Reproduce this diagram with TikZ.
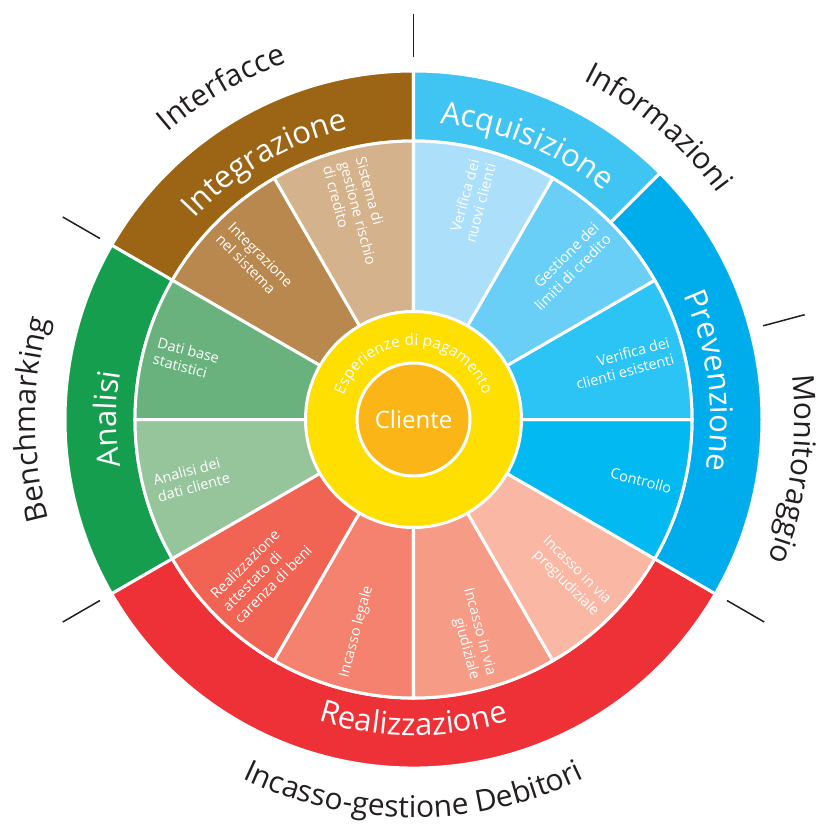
\documentclass[tikz,border=0pt]{standalone}
\usepackage{fontspec}
\setmainfont{Open Sans}
\usetikzlibrary{decorations.text}
\definecolor{Ink}{HTML}{231F20}
\definecolor{Integr}{HTML}{9C6515}
\definecolor{IntSist}{HTML}{B9884E}
\definecolor{SistRischio}{HTML}{D4B28B}
\definecolor{Anal}{HTML}{169E4F}
\definecolor{DatiBase}{HTML}{69B27D}
\definecolor{DatiCliente}{HTML}{96C59C}
\definecolor{Real}{HTML}{EE3037}
\definecolor{Attestato}{HTML}{F16454}
\definecolor{Legale}{HTML}{F4826F}
\definecolor{Giud}{HTML}{F69B86}
\definecolor{Pregiud}{HTML}{F9B7A4}
\definecolor{Acq}{HTML}{40C5F2}
\definecolor{Prev}{HTML}{00ADEC}
\definecolor{NuoviCl}{HTML}{ACDFF9}
\definecolor{Limiti}{HTML}{6ACFF6}
\definecolor{Esistenti}{HTML}{2CC4F4}
\definecolor{Contr}{HTML}{02B9F1}
\definecolor{Esper}{HTML}{FFDF00}
\definecolor{Cli}{HTML}{FBB517}
\newcommand{\wheelpart}[5]{\filldraw[seg,fill=#1] (#2:#4) -- (#2:#5) arc[start angle=#2,end angle=#3,radius=#5pt] -- (#3:#4) arc[start angle=#3,end angle=#2,radius=#4pt] -- cycle;}
\newcommand{\ringfont}{\color{white}\fontsize{31}{37}\selectfont}
\newcommand{\outerfont}{\color{Ink}\fontsize{30}{36}\selectfont}
\newcommand{\esperfont}{\color{white}\fontsize{15.5}{18}\selectfont}

\begin{document}
\begin{tikzpicture}[x=1pt,y=1pt,
  seg/.style={draw=white,line width=3pt},
  segtext/.style={text=white,font=\fontsize{14.5}{17}\selectfont,inner sep=0pt},
  outtext/.style={segtext,rotate=#1,anchor=east,align=right},
  intext/.style={segtext,rotate=#1-180,anchor=west,align=left},
  arctext/.style={decorate,decoration={text along path,text align=center,text={#1}}},
  tickline/.style={draw=Ink,line width=1.5pt}]
  \useasboundingbox (-413.5,-407.5) rectangle (402.5,419.5);
  % outer ring
  \wheelpart{Integr}{90}{150}{278.5}{348.5}
  \wheelpart{Anal}{150}{210}{278.5}{348.5}
  \wheelpart{Real}{210}{330}{278.5}{348.5}
  \wheelpart{Prev}{-30}{45}{278.5}{348.5}
  \wheelpart{Acq}{45}{90}{278.5}{348.5}
  % inner segments
  \foreach \a/\c [evaluate=\a as \b using \a+30] in {90/SistRischio,120/IntSist,150/DatiBase,180/DatiCliente,210/Attestato,240/Legale,270/Giud,300/Pregiud,330/Contr,0/Esistenti,30/Limiti,60/NuoviCl}
    \wheelpart{\c}{\a}{\b}{100}{278.5};
  \node[circle,fill=Esper,draw=white,line width=3pt,minimum size=216pt,inner sep=0pt] (esper) at (0,0) {};
  \node[circle,fill=Cli,draw=white,line width=3pt,minimum size=113pt,inner sep=0pt,text=white,font=\fontsize{24}{28}\selectfont] (cliente) at (0,0) {Cliente};
  \path[arctext={|\esperfont|Esperienze di pagamento}] (180:74) arc[start angle=180,end angle=0,radius=74pt];
  % segment texts
  \node[intext=105] (sistema) at (105:267) {Sistema di\\gestione rischio\\di credito};
  \node[intext=135] (intsist) at (135:267) {Integrazione\\nel sistema};
  \node[intext=165] (datibase) at (165:267) {Dati base\\statistici};
  \node[intext=195] (daticl) at (195:267) {Analisi dei\\dati cliente};
  \node[intext=225] (attest) at (225:267) {Realizzazione\\attestato di\\carenza di beni};
  \node[intext=255] (legale) at (255:267) {Incasso legale};
  \node[outtext=-75] (giud) at (-75:267) {Incasso in via\\giudiziale};
  \node[outtext=-45] (pregiud) at (-45:267) {Incasso in via\\pregiudiziale};
  \node[outtext=-15] (contr) at (-15:267) {Controllo};
  \node[outtext=15] (esist) at (15:267) {Verifica dei\\clienti esistenti};
  \node[outtext=45] (limiti) at (45:267) {Gestione dei\\limiti di credito};
  \node[outtext=75] (nuovi) at (75:267) {Verifica dei\\nuovi clienti};
  % ring labels
  \path[arctext={|\ringfont|Integrazione}] (165:297) arc[start angle=165,end angle=75,radius=297pt];
  \path[arctext={|\ringfont|Acquisizione}] (112.5:297) arc[start angle=112.5,end angle=22.5,radius=297pt];
  \path[arctext={|\ringfont|Prevenzione}] (52.5:297) arc[start angle=52.5,end angle=-37.5,radius=297pt];
  \path[arctext={|\ringfont|Analisi}] (225:297) arc[start angle=225,end angle=135,radius=297pt];
  \path[arctext={|\ringfont|Realizzazione}] (210:316) arc[start angle=210,end angle=330,radius=316pt];
  % outer labels
  \path[arctext={|\outerfont|Interfacce}] (165:378) arc[start angle=165,end angle=75,radius=378pt];
  \path[arctext={|\outerfont|Informazioni}] (95:379) arc[start angle=95,end angle=5,radius=379pt];
  \path[arctext={|\outerfont|Monitoraggio}] (37.5:381) arc[start angle=37.5,end angle=-52.5,radius=381pt];
  \path[arctext={|\outerfont|Benchmarking}] (225:378) arc[start angle=225,end angle=135,radius=378pt];
  \path[arctext={|\outerfont|Incasso-gestione Debitori}] (200:398) arc[start angle=200,end angle=340,radius=398pt];
  \foreach \t in {90,150,210,330,15}
    \draw[tickline] (\t:362) -- (\t:405);
\end{tikzpicture}
\end{document}
